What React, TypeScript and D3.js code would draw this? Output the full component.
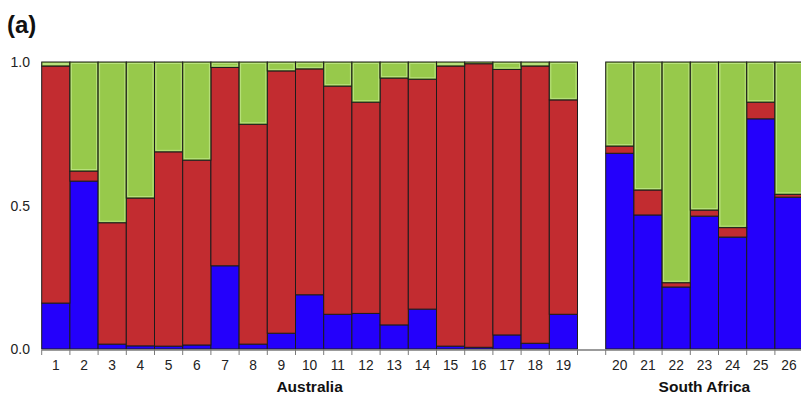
import React from "react";
import * as d3 from "d3";

// Membership proportions of each site in the three inferred clusters
const australiaSites = ["1","2","3","4","5","6","7","8","9","10","11","12","13","14","15","16","17","18","19"];
const southAfricaSites = ["20","21","22","23","24","25","26"];

const clusterBlue = [0.16,0.585,0.017,0.011,0.01,0.014,0.29,0.017,0.055,0.189,0.121,0.124,0.084,0.139,0.01,0.006,0.049,0.02,0.121,
  0.682,0.467,0.216,0.463,0.39,0.802,0.529];
const clusterRed = [0.826,0.035,0.423,0.515,0.677,0.644,0.691,0.766,0.914,0.787,0.795,0.736,0.86,0.801,0.976,0.988,0.925,0.966,0.747,
  0.025,0.087,0.015,0.021,0.033,0.058,0.01];
const clusterGreen = [0.014,0.38,0.56,0.474,0.313,0.342,0.019,0.217,0.031,0.024,0.084,0.14,0.056,0.06,0.014,0.006,0.026,0.014,0.132,
  0.293,0.446,0.769,0.516,0.577,0.14,0.461];

const yTicks = [0, 0.5, 1.0];
const regionLabels = ["Australia", "South Africa"];

const W = 801;
const H = 397;
const GAP = "gap";

export default function App() {
  const sites = [...australiaSites, ...southAfricaSites];
  const slots = [...australiaSites, GAP, ...southAfricaSites];

  const x = d3.scaleBand<string>().domain(slots).range([41.7, 41.7 + 27 * 28.2]).padding(0);
  const y = d3.scaleLinear().domain([0, 1]).range([349, 62]);

  const rows = sites.map((s, i) => ({ site: s, blue: clusterBlue[i], red: clusterRed[i], green: clusterGreen[i] }));
  const stack = d3.stack<any>().keys(["blue", "red", "green"]);
  const series = stack(rows);
  const fills: Record<string, string> = { blue: "#2400fb", red: "#c22c30", green: "#97c94b" };

  const bw = x.bandwidth();
  const tickXs = slots.map((s) => x(s)!).concat([x(slots[slots.length - 1])! + bw]);

  const font = "'Liberation Sans', Arial, sans-serif";
  const ausCenter = (x(australiaSites[0])! + x(australiaSites[australiaSites.length - 1])! + bw) / 2;
  const saCenter = (x(southAfricaSites[0])! + x(southAfricaSites[southAfricaSites.length - 1])! + bw) / 2;

  return (
    <svg width={W} height={H} style={{ position: "absolute", left: 0, top: 0, background: "#fff" }}>
      <text x={7} y={32.5} fontFamily={font} fontWeight="bold" fontSize={24} fill="#111">(a)</text>

      {yTicks.map((t) => (
        <text key={t} x={30} y={y(t) + 5} textAnchor="end" fontFamily={font} fontSize={14} fill="#222">
          {t.toFixed(1)}
        </text>
      ))}

      {series.map((ser) =>
        ser.map((d, i) => {
          const x0 = x(rows[i].site)!;
          const y0 = y(d[1]);
          const h = y(d[0]) - y(d[1]);
          return (
            <g key={ser.key + i}>
              <rect x={x0} y={y0} width={bw} height={h} fill={fills[ser.key]} />
              {ser.key === "green" && h > 3 && (
                <rect x={x0 + 1.5} y={y0 + 1.5} width={bw - 3} height={h - 3} fill="none" stroke="#b9e27e" strokeWidth={1} />
              )}
              <rect x={x0} y={y0} width={bw} height={h} fill="none" stroke="#1c1c1c" strokeWidth={1} />
            </g>
          );
        })
      )}

      {/* x axis baseline and ticks */}
      <line x1={41.7} x2={W} y1={350} y2={350} stroke="#7a7a7a" strokeWidth={1.5} />
      {tickXs.map((tx, i) => (
        <line key={i} x1={tx} x2={tx} y1={350} y2={355} stroke="#7a7a7a" strokeWidth={1} />
      ))}

      {sites.map((s) => (
        <text key={s} x={x(s)! + bw / 2} y={370.5} textAnchor="middle" fontFamily={font} fontSize={15} fill="#222"
          transform={`translate(${(x(s)! + bw / 2) * 0.08},0) scale(0.92,1)`}>
          {s}
        </text>
      ))}

      <text x={ausCenter} y={392} textAnchor="middle" fontFamily={font} fontWeight="bold" fontSize={15.5} fill="#111">
        {regionLabels[0]}
      </text>
      <text x={saCenter} y={392} textAnchor="middle" fontFamily={font} fontWeight="bold" fontSize={15.5} fill="#111">
        {regionLabels[1]}
      </text>
    </svg>
  );
}
